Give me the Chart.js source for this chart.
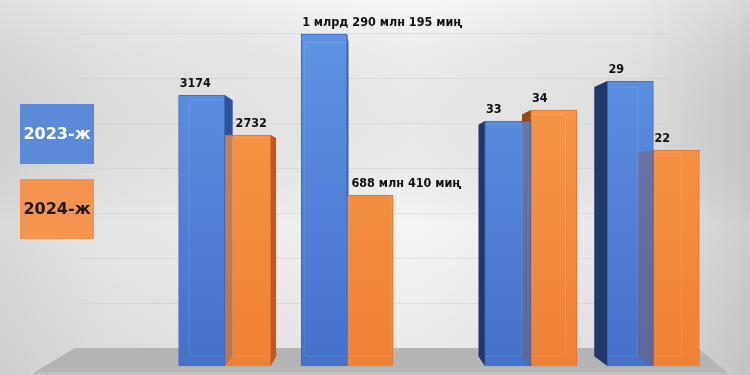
<!DOCTYPE html>
<html>
<head>
<meta charset="utf-8">
<script src="https://cdn.jsdelivr.net/npm/chart.js@4/dist/chart.umd.min.js"></script>
<style>
  html, body { margin: 0; padding: 0; background: #e8e8e8; }
  #c { display: block; }
</style>
</head>
<body>
<canvas id="c" width="750" height="375"></canvas>
<script>
// ---- data (bar heights, in picture units; labels as printed) ----
const categories = ['1', '', '2', '', '', '3', '', '4'];
const seriesNames = ['2023-ж', '2024-ж'];
const heights2023 = [271, null, 332, null, null, 245, null, 285];
const heights2024 = [231, null, 171, null, null, 256, null, 216];
const labels2023 = ['3174', null, '1 млрд 290 млн 195 миң', null, null, '33', null, '29'];
const labels2024 = ['2732', null, '688 млн 410 миң', null, null, '34', null, '22'];
const gridTicks = [18, 63, 108, 153, 198, 243, 288, 333];

const VP = { x: 370, y: 190, t: 0.055 };
const FONT = '"DejaVu Sans", Verdana, sans-serif';
const LABEL_FONT = '"DejaVu Sans Condensed", "DejaVu Sans", sans-serif';

function proj(px, py) {
  return [px + VP.t * (VP.x - px), py + VP.t * (VP.y - py)];
}

function barRects(chart) {
  const out = [];
  chart.data.datasets.forEach((ds, di) => {
    const meta = chart.getDatasetMeta(di);
    meta.data.forEach((el, i) => {
      if (ds.data[i] == null) return;
      const p = el.getProps(['x', 'y', 'base', 'width'], true);
      out.push({ di, i, L: p.x - p.width / 2, R: p.x + p.width / 2, T: p.y, B: p.base });
    });
  });
  return out;
}

function sidePoly(r) {
  if (r.L > VP.x) {
    const a = proj(r.L, r.T), b = proj(r.L, r.B);
    return { side: 'left', pts: [[r.L, r.T], a, b, [r.L, r.B]] };
  }
  if (r.R < VP.x) {
    const a = proj(r.R, r.T), b = proj(r.R, r.B);
    return { side: 'right', pts: [[r.R, r.T], a, b, [r.R, r.B]] };
  }
  return null;
}

function fillPoly(ctx, pts, color) {
  ctx.beginPath();
  ctx.moveTo(pts[0][0], pts[0][1]);
  for (let k = 1; k < pts.length; k++) ctx.lineTo(pts[k][0], pts[k][1]);
  ctx.closePath();
  ctx.fillStyle = color;
  ctx.fill();
}

const sideColors = [
  { left: '#22396a', right: '#2f549b' },
  { left: '#9c4716', right: '#c0591d' }
];

const decor = {
  id: 'decor',
  beforeDraw(chart) {
    const ctx = chart.ctx;
    const W = chart.width, H = chart.height;
    ctx.save();
    // background
    let g = ctx.createLinearGradient(0, 0, W, 0);
    g.addColorStop(0, '#d9d9d9');
    g.addColorStop(0.15, '#e6e6e6');
    g.addColorStop(0.55, '#f5f5f5');
    g.addColorStop(0.85, '#e6e6e6');
    g.addColorStop(1, '#cdcdcd');
    ctx.fillStyle = g;
    ctx.fillRect(0, 0, W, H);
    let gv = ctx.createLinearGradient(0, 0, 0, H);
    gv.addColorStop(0, 'rgba(255,255,255,0.2)');
    gv.addColorStop(0.6, 'rgba(0,0,0,0)');
    gv.addColorStop(1, 'rgba(0,0,0,0.05)');
    ctx.fillStyle = gv;
    ctx.fillRect(0, 0, W, H);

    // grid lines
    const ys = chart.scales.y;
    ctx.strokeStyle = 'rgba(205,205,205,0.45)';
    ctx.lineWidth = 1;
    gridTicks.forEach(v => {
      const py = Math.round(ys.getPixelForValue(v)) + 0.5;
      ctx.beginPath();
      ctx.moveTo(80, py);
      ctx.lineTo(668, py);
      ctx.stroke();
    });

    // floor
    const fy = Math.round(ys.getPixelForValue(gridTicks[0]));
    fillPoly(ctx, [[75, fy], [698, fy], [730, H], [30, H]], '#b4b4b4');
    ctx.fillStyle = 'rgba(255,255,255,0.18)';
    ctx.fillRect(30, H - 3, 700, 3);

    // legend boxes
    const boxes = [
      { y: 104, fill: '#5b8bd8', text: '#ffffff' },
      { y: 179, fill: '#f4944f', text: '#1a1a1a' }
    ];
    boxes.forEach((b, k) => {
      ctx.fillStyle = b.fill;
      ctx.fillRect(20, b.y, 74, 60);
      ctx.fillStyle = b.text;
      ctx.font = 'bold 16px ' + FONT;
      ctx.textAlign = 'center';
      ctx.textBaseline = 'middle';
      ctx.fillText(chart.data.datasets[k].label, 57, b.y + 31);
    });
    ctx.restore();
  },
  beforeDatasetsDraw(chart) {
    const ctx = chart.ctx;
    ctx.save();
    barRects(chart).forEach(r => {
      const s = sidePoly(r);
      if (!s) return;
      fillPoly(ctx, s.pts, sideColors[r.di][s.side]);
    });
    ctx.restore();
  },
  afterDatasetsDraw(chart) {
    const ctx = chart.ctx;
    const rects = barRects(chart);
    ctx.save();
    // see-through sides over neighbouring fronts
    rects.forEach(r => {
      const s = sidePoly(r);
      if (!s) return;
      ctx.globalAlpha = 0.28;
      fillPoly(ctx, s.pts, sideColors[r.di][s.side]);
      ctx.globalAlpha = 1;
    });
    // back edges seen through the glass front
    rects.forEach(r => {
      ctx.save();
      ctx.beginPath();
      ctx.rect(r.L + 1, r.T + 1, r.R - r.L - 2, r.B - r.T - 2);
      ctx.clip();
      const tl = proj(r.L, r.T), tr = proj(r.R, r.T), bl = proj(r.L, r.B), br = proj(r.R, r.B);
      ctx.strokeStyle = 'rgba(255,255,255,0.12)';
      ctx.lineWidth = 1;
      ctx.beginPath();
      ctx.moveTo(tl[0], tl[1]); ctx.lineTo(tr[0], tr[1]); ctx.lineTo(br[0], br[1]);
      ctx.lineTo(bl[0], bl[1]); ctx.closePath();
      ctx.stroke();
      ctx.restore();
    });
    // value labels
    ctx.font = 'bold 12.5px ' + LABEL_FONT;
    ctx.fillStyle = '#111111';
    ctx.textAlign = 'left';
    ctx.textBaseline = 'alphabetic';
    const lab = [labels2023, labels2024];
    rects.forEach(r => {
      const t = lab[r.di][r.i];
      if (t == null) return;
      let x = r.L;
      // keep clear of a neighbouring bar's side face that sticks out over this bar
      rects.forEach(o => {
        if (o === r || o.i !== r.i) return;
        const s = sidePoly(o);
        if (s && s.side === 'right' && o.R <= r.L + 0.5 && o.T < r.T) {
          x = Math.max(x, proj(o.R, o.T)[0] + 2);
        }
      });
      ctx.fillText(t, x + 1, r.T - 8);
    });
    ctx.restore();
  }
};

function frontGradient(ctx, chart, top, bottom) {
  const a = chart.chartArea;
  if (!a) return top;
  const g = ctx.createLinearGradient(0, a.top, 0, a.bottom);
  g.addColorStop(0, top);
  g.addColorStop(1, bottom);
  return g;
}

new Chart(document.getElementById('c'), {
  type: 'bar',
  data: {
    labels: categories,
    datasets: [
      {
        label: seriesNames[0],
        data: heights2023,
        backgroundColor: c => frontGradient(c.chart.ctx, c.chart, '#5f93e3', '#4572cb'),
        borderColor: '#3d68bd',
        borderWidth: 1,
        barThickness: 46,
        clip: false
      },
      {
        label: seriesNames[1],
        data: heights2024,
        backgroundColor: c => frontGradient(c.chart.ctx, c.chart, '#f89b4c', '#ef8135'),
        borderColor: '#e07630',
        borderWidth: 1,
        barThickness: 46,
        clip: false
      }
    ]
  },
  options: {
    responsive: false,
    devicePixelRatio: 1,
    animation: false,
    layout: { padding: { left: 194, right: 66, top: 26, bottom: 9 } },
    plugins: { legend: { display: false }, tooltip: { enabled: false } },
    scales: {
      x: { display: false, grid: { display: false } },
      y: { display: false, min: 0, max: 340, grid: { display: false } }
    }
  },
  plugins: [decor]
});
</script>
</body>
</html>
